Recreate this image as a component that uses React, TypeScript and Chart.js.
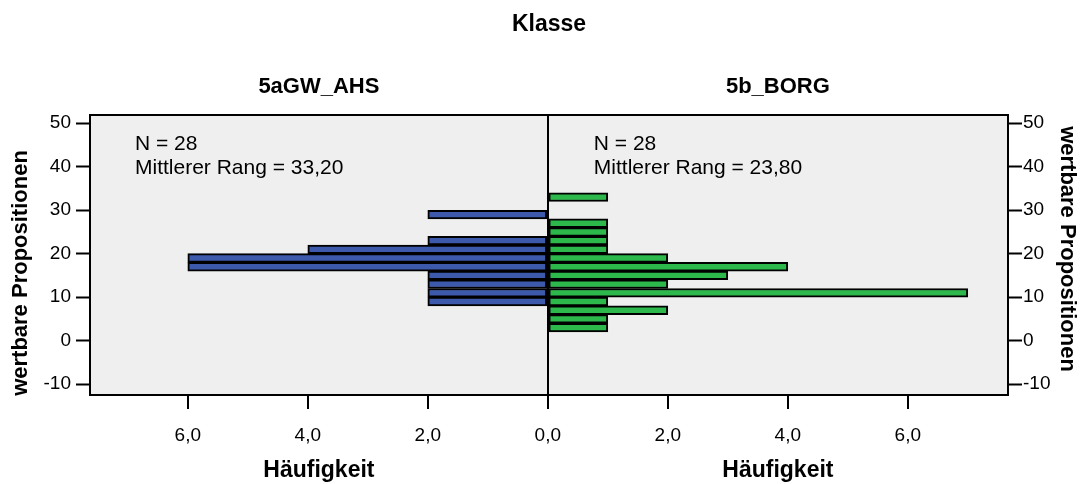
import React, { useEffect, useRef } from "react";
import { Chart, registerables } from "chart.js";

Chart.register(...registerables);

// Histogram bins (lower edge of each 2-point bin of "wertbare Propositionen")
const binLower = [2, 4, 6, 8, 10, 12, 14, 16, 18, 20, 22, 24, 26, 28, 30, 32];
const binWidth = 2;

// Frequencies per class
const countsAHS = [0, 0, 0, 2, 2, 2, 2, 6, 6, 4, 2, 0, 0, 2, 0, 0];
const countsBORG = [1, 1, 2, 1, 7, 2, 3, 4, 2, 1, 1, 1, 1, 0, 0, 1];

const groupNames = ["5aGW_AHS", "5b_BORG"];
const groupN = ["N = 28", "N = 28"];
const groupRank = ["Mittlerer Rang = 33,20", "Mittlerer Rang = 23,80"];

const yTicks = [-10, 0, 10, 20, 30, 40, 50];
const xTicks = [-6, -4, -2, 0, 2, 4, 6];

const mainTitle = "Klasse";
const xTitle = "Häufigkeit";
const yTitle = "wertbare Propositionen";

const FONT = "'Liberation Sans', Arial, sans-serif";
const BLUE = "#3d59ab";
const GREEN = "#2db84c";
const PANEL_BG = "#efefef";

const toPoints = (counts: number[], sign: number) =>
  counts.map((c, i) => ({ x: c === 0 ? null : sign * c, y: binLower[i] + binWidth / 2 }));

const fmtX = (v: number) => Math.abs(v).toFixed(1).replace(".", ",");

const framePlugin = {
  id: "frame",
  beforeDraw(chart: any) {
    const { ctx, chartArea: a } = chart;
    ctx.save();
    ctx.fillStyle = PANEL_BG;
    ctx.fillRect(a.left, a.top, a.right - a.left, a.bottom - a.top);
    ctx.restore();
  },
  afterDraw(chart: any) {
    const { ctx, chartArea: a } = chart;
    const xs = chart.scales.x;
    const zero = xs.getPixelForValue(0);
    const midL = (a.left + zero) / 2;
    const midR = (zero + a.right) / 2;
    const midY = (a.top + a.bottom) / 2;
    ctx.save();
    ctx.strokeStyle = "#000";
    ctx.lineWidth = 2;
    ctx.strokeRect(a.left, a.top, a.right - a.left, a.bottom - a.top);

    ctx.fillStyle = "#000";
    ctx.textBaseline = "alphabetic";
    ctx.textAlign = "center";
    ctx.font = `bold 23px ${FONT}`;
    ctx.fillText(mainTitle, (a.left + a.right) / 2, 31);
    ctx.font = `bold 22px ${FONT}`;
    ctx.fillText(groupNames[0], midL, 93);
    ctx.fillText(groupNames[1], midR, 93);
    ctx.font = `bold 23px ${FONT}`;
    ctx.fillText(xTitle, midL, 477);
    ctx.fillText(xTitle, midR, 477);

    ctx.textAlign = "left";
    ctx.font = `21px ${FONT}`;
    ctx.fillText(groupN[0], a.left + 45, 150);
    ctx.fillText(groupRank[0], a.left + 45, 174);
    ctx.fillText(groupN[1], zero + 46, 150);
    ctx.fillText(groupRank[1], zero + 46, 174);

    ctx.font = `bold 22px ${FONT}`;
    ctx.textAlign = "center";
    ctx.textBaseline = "middle";
    ctx.save();
    ctx.translate(21, midY + 18);
    ctx.rotate(-Math.PI / 2);
    ctx.fillText(yTitle, 0, 0);
    ctx.restore();
    ctx.save();
    ctx.translate(1067, midY - 6);
    ctx.rotate(Math.PI / 2);
    ctx.fillText(yTitle, 0, 0);
    ctx.restore();
    ctx.restore();
  },
};

export default function App() {
  const canvasRef = useRef<HTMLCanvasElement | null>(null);

  useEffect(() => {
    const canvas = canvasRef.current;
    if (!canvas) return;
    const setTicks = (vals: number[]) => (scale: any) => {
      scale.ticks = vals.map((v) => ({ value: v }));
    };
    const tickFont = { family: FONT, size: 19 };
    const yAxisGrid = {
      drawOnChartArea: false,
      offset: false,
      tickColor: "#000",
      tickLength: 14,
      tickWidth: 2,
    };
    const chart = new Chart(canvas, {
      type: "bar",
      data: {
        datasets: [
          {
            label: groupNames[0],
            data: toPoints(countsAHS, -1) as any,
            backgroundColor: BLUE,
            borderColor: "#000",
            borderWidth: 2,
            borderSkipped: false,
            grouped: false,
            categoryPercentage: 1,
            barPercentage: 1,
          },
          {
            label: groupNames[1],
            data: toPoints(countsBORG, 1) as any,
            backgroundColor: GREEN,
            borderColor: "#000",
            borderWidth: 2,
            borderSkipped: false,
            grouped: false,
            categoryPercentage: 1,
            barPercentage: 1,
          },
        ],
      },
      options: {
        indexAxis: "y",
        animation: false,
        responsive: false,
        layout: { padding: { top: 115, left: 0, right: 0, bottom: 0 } },
        plugins: { legend: { display: false }, tooltip: { enabled: false }, title: { display: false } },
        scales: {
          x: {
            type: "linear",
            position: "bottom",
            min: -7.63,
            max: 7.67,
            offset: false,
            afterBuildTicks: setTicks(xTicks),
            afterFit: (s: any) => {
              s.height = 89;
            },
            border: { display: false },
            grid: {
              drawOnChartArea: true,
              offset: false,
              color: (c: any) => (c.tick && c.tick.value === 0 ? "#000" : "rgba(0,0,0,0)"),
              lineWidth: 2,
              tickColor: "#000",
              tickLength: 14,
              tickWidth: 2,
            },
            ticks: { color: "#000", font: tickFont, padding: 15, callback: (v: any) => fmtX(Number(v)), maxRotation: 0 },
          },
          y: {
            type: "linear",
            position: "left",
            min: -12.5,
            max: 51.9,
            offset: false,
            afterBuildTicks: setTicks(yTicks),
            afterFit: (s: any) => {
              s.width = 90;
            },
            border: { display: false },
            grid: yAxisGrid,
            ticks: { color: "#000", font: tickFont, padding: 5 },
          },
          y2: {
            type: "linear",
            position: "right",
            min: -12.5,
            max: 51.9,
            offset: false,
            afterBuildTicks: setTicks(yTicks),
            afterFit: (s: any) => {
              s.width = 75;
            },
            border: { display: false },
            grid: yAxisGrid,
            ticks: { color: "#000", font: tickFont, padding: 1 },
          },
        },
      },
      plugins: [framePlugin],
    });
    return () => chart.destroy();
  }, []);

  return (
    <div style={{ position: "fixed", left: 0, top: 0, width: 1083, height: 484, background: "#fff" }}>
      <canvas ref={canvasRef} width={1083} height={484} style={{ display: "block" }} />
    </div>
  );
}
